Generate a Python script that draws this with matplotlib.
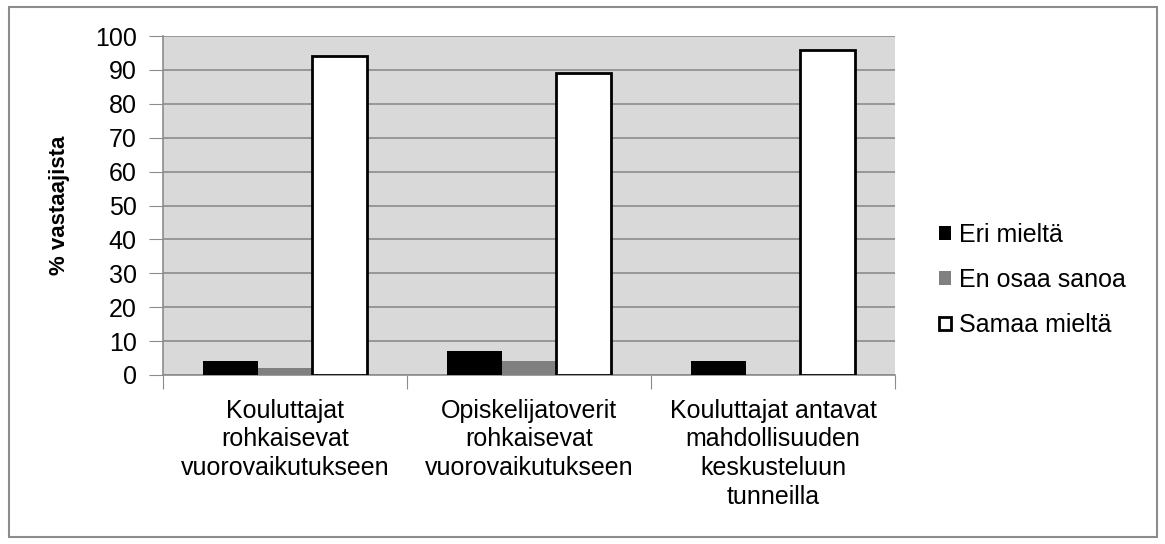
import matplotlib.pyplot as plt
import numpy as np
from matplotlib.patches import Rectangle

categories = ["Kouluttajat\nrohkaisevat\nvuorovaikutukseen",
              "Opiskelijatoverit\nrohkaisevat\nvuorovaikutukseen",
              "Kouluttajat antavat\nmahdollisuuden\nkeskusteluun\ntunneilla"]
series_names = ["Eri mieltä", "En osaa sanoa", "Samaa mieltä"]
eri = [4, 7, 4]
en_osaa = [2, 4, 0]
samaa = [94, 89, 96]
yticks = list(range(0, 101, 10))

plt.rcParams['font.family'] = ['Liberation Sans', 'DejaVu Sans']

fig = plt.figure(figsize=(11.65, 5.44), dpi=100)
ax = fig.add_axes([163 / 1165, 1 - 375 / 544, 732 / 1165, 339 / 544])
ax.set_facecolor("#d9d9d9")

x = np.arange(len(categories))
w = 0.223
ax.bar(x - w, eri, w, color="black", label=series_names[0], zorder=3)
ax.bar(x, en_osaa, w, color="#808080", label=series_names[1], zorder=3)
ax.bar(x + w, samaa, w, color="white", edgecolor="black", linewidth=2,
       label=series_names[2], zorder=3)

ax.set_xlim(-0.5, 2.5)
ax.set_ylim(0, 100)
ax.set_yticks(yticks)
ax.set_yticklabels([str(t) for t in yticks], fontsize=18)
ax.yaxis.grid(True, color="#8c8c8c", linewidth=1.2)
ax.set_axisbelow(True)
ax.tick_params(axis="y", length=10, color="#8c8c8c", pad=9)

ax.set_xticks([-0.5, 0.5, 1.5, 2.5])
ax.set_xticklabels([])
ax.tick_params(axis="x", length=10, color="#8c8c8c")
ax.set_xticks(x, minor=True)
ax.set_xticklabels(categories, minor=True, fontsize=18, linespacing=1.25)
ax.tick_params(axis="x", which="minor", length=0, pad=17)

for s in ["top", "right"]:
    ax.spines[s].set_visible(False)
for s in ["left", "bottom"]:
    ax.spines[s].set_color("#8c8c8c")
    ax.spines[s].set_linewidth(1.2)

ax.set_ylabel("% vastaajista", fontsize=16, fontweight="bold", labelpad=18)

ax.legend(loc="center left", bbox_to_anchor=(1.03, 0.28), frameon=False,
          fontsize=18, handlelength=0.45, handleheight=0.45, handletextpad=0.35,
          labelspacing=0.85)

fig.patches.append(Rectangle((9 / 1165, 7 / 544), 1148 / 1165, 530 / 544,
                             transform=fig.transFigure, fill=False,
                             edgecolor="#8c8c8c", linewidth=1.5))

fig.savefig("out.png", dpi=100)
